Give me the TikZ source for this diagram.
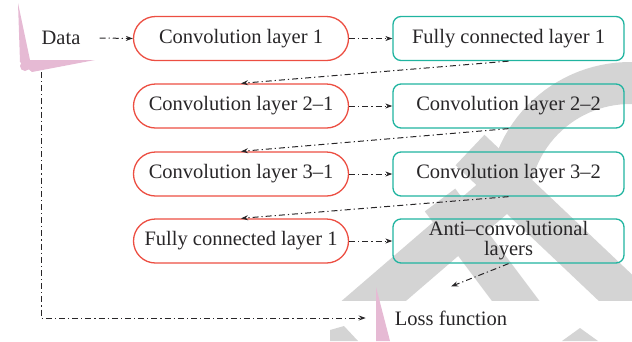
\documentclass[tikz,border=0pt]{standalone}
\usepackage{fontspec}
\setmainfont{Liberation Serif}
\usetikzlibrary{arrows.meta}
\definecolor{boxred}{RGB}{236,78,66}
\definecolor{boxteal}{RGB}{32,180,160}
\definecolor{ink}{RGB}{40,38,40}
\definecolor{wmgray}{RGB}{212,212,212}
\definecolor{wmpink}{RGB}{230,186,212}

\begin{document}
\begin{tikzpicture}[x=1pt,y=-1pt,
  lbl/.style={font=\fontsize{20.5}{20}\selectfont, text=ink},
  redbox/.style={lbl, draw=boxred, line width=1.3pt, rounded corners=22pt,
    minimum width=215pt, minimum height=44pt, inner sep=0pt},
  tealbox/.style={lbl, draw=boxteal, line width=1.3pt, rounded corners=8pt,
    minimum width=231pt, minimum height=44pt, inner sep=0pt, align=center},
  flow/.style={draw=ink, line width=1pt,
    dash pattern=on 6pt off 3pt on 1.2pt off 3pt,
    -{Stealth[length=7pt,width=5pt]}},
  wm/.style={draw=wmgray, line width=42pt}
]
\useasboundingbox (0,0) rectangle (632,341);

% background logo shapes
\begin{scope}
  \clip (0,0) rectangle (632,300);
  \draw[wm] plot[domain=80:170, samples=30]
      ({630+122*cos(\x)},{205-122*sin(\x)}) -- (340,330);
  \draw[wm] (470,150) -- (660,330);
  \draw[wm, line width=38pt] (440,200) -- (530,320);
\end{scope}
\fill[wmgray] (330,341) -- (330,330) -- (344,326) -- (358,341) -- cycle;
\fill[wmgray] (562,341) -- (580,328) -- (598,341) -- cycle;
\fill[wmpink] (18,3) -- (30,60) -- (95,60) -- (32,72) -- (20,62) -- cycle;
\fill[wmpink] (25,66) circle[radius=5pt];
\fill[wmpink] (376,287) -- (390,341) -- (376,341) -- cycle;

% nodes
\node[lbl, inner xsep=19pt, inner ysep=27pt] (data) at (61,38) {Data};

\node[redbox]  (c1)  at (241,38.5) {Convolution layer 1};
\node[tealbox] (fc1) at (508.5,38.5) {Fully connected layer 1};

\node[redbox]  (c21) at (241,106) {Convolution layer 2–1};
\node[tealbox] (c22) at (508.5,106) {Convolution layer 2–2};

\node[redbox]  (c31) at (241,174) {Convolution layer 3–1};
\node[tealbox] (c32) at (508.5,174) {Convolution layer 3–2};

\node[redbox]  (fc2) at (241,241) {Fully connected layer 1};
\node[tealbox] (anti) at (508.5,241) {Anti–convolutional\\layers};

\node[lbl, inner xsep=29pt, inner ysep=24pt] (loss) at (451,318) {Loss function};
\coordinate (dleft) at (41,0);

% connectors
\draw[flow] (data.east) -- (c1.west);
\draw[flow] (c1.east) -- (fc1.west);
\draw[flow] (fc1.south) -- (c21.north);
\draw[flow] (c21.east) -- (c22.west);
\draw[flow] (c22.south) -- (c31.north);
\draw[flow] (c31.east) -- (c32.west);
\draw[flow] (c32.south) -- (fc2.north);
\draw[flow] (fc2.east) -- (anti.west);
\draw[flow] (anti.south) -- (loss.north);
\draw[flow] (data.south -| dleft) |- (loss.west);
\end{tikzpicture}
\end{document}
